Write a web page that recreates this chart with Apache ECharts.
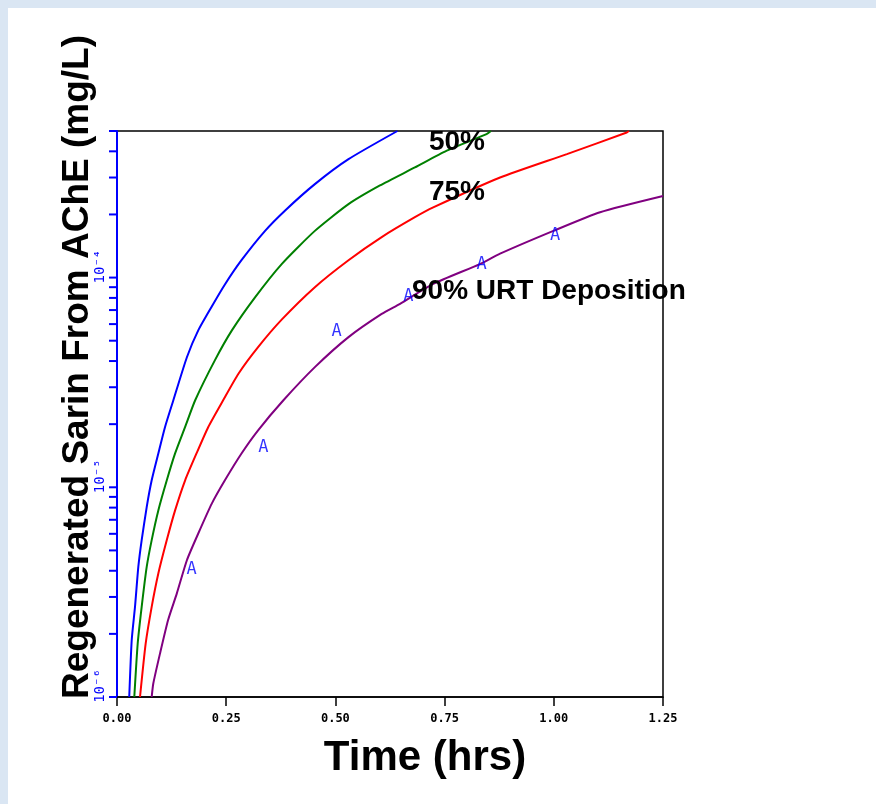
<!DOCTYPE html>
<html>
<head>
<meta charset="utf-8">
<script src="https://cdn.jsdelivr.net/npm/echarts@6/dist/echarts.min.js"></script>
<style>
html,body{margin:0;padding:0;background:#fff;}
#chart{width:876px;height:804px;}
</style>
</head>
<body>
<div id="chart"></div>
<script>
// ---- data ----
const xTicks = [0, 0.25, 0.5, 0.75, 1.0, 1.25];
const yTickValues = [1e-6,2e-6,3e-6,4e-6,5e-6,6e-6,7e-6,8e-6,9e-6,
  1e-5,2e-5,3e-5,4e-5,5e-5,6e-5,7e-5,8e-5,9e-5,
  1e-4,2e-4,3e-4,4e-4,5e-4];
const yLabelValues = [1e-6, 1e-5, 1e-4];
const yLabelTexts = ['10\u207B\u2076', '10\u207B\u2075', '10\u207B\u2074'];

const blueT = [0.028,0.0337,0.0412,0.0488,0.0565,0.068,0.0794,0.0946,0.110,0.129,0.160,0.186,0.217,0.247,0.285,0.339,0.385,0.453,0.530,0.642];
const blueY = [1e-6,1.87e-6,2.69e-6,4.17e-6,5.6e-6,8.05e-6,1.08e-5,1.45e-5,1.94e-5,2.6e-5,4.17e-5,5.6e-5,7.28e-5,9.27e-5,1.21e-4,1.67e-4,2.09e-4,2.79e-4,3.67e-4,5e-4];

const greenT = [0.0396,0.0474,0.0565,0.068,0.0794,0.0946,0.114,0.133,0.156,0.179,0.224,0.263,0.316,0.377,0.453,0.530,0.602,0.682,0.755,0.846,0.856];
const greenY = [1e-6,1.8e-6,2.69e-6,4.17e-6,5.6e-6,7.76e-6,1.08e-5,1.45e-5,1.94e-5,2.6e-5,4.03e-5,5.6e-5,8.05e-5,1.16e-4,1.67e-4,2.24e-4,2.75e-4,3.35e-4,4.03e-4,4.83e-4,5e-4];

const redT = [0.0527,0.0657,0.0794,0.0946,0.114,0.133,0.156,0.182,0.209,0.243,0.278,0.323,0.377,0.453,0.530,0.606,0.682,0.724,0.877,1.030,1.167,1.172];
const redY = [1e-6,1.8e-6,2.69e-6,3.88e-6,5.6e-6,7.76e-6,1.08e-5,1.45e-5,1.94e-5,2.6e-5,3.48e-5,4.66e-5,6.3e-5,9.0e-5,1.21e-4,1.56e-4,1.94e-4,2.16e-4,3.0e-4,3.88e-4,4.92e-4,5e-4];

const purpleT = [0.0794,0.0831,0.0984,0.117,0.137,0.160,0.186,0.217,0.247,0.285,0.323,0.381,0.453,0.530,0.606,0.648,0.724,0.831,0.877,0.999,1.106,1.25];
const purpleY = [1e-6,1.16e-6,1.61e-6,2.33e-6,3.12e-6,4.49e-6,6.02e-6,8.36e-6,1.08e-5,1.45e-5,1.87e-5,2.6e-5,3.74e-5,5.2e-5,6.71e-5,7.5e-5,9.33e-5,1.16e-4,1.3e-4,1.67e-4,2.05e-4,2.45e-4];

const markerT = [0.171,0.335,0.503,0.667,0.835,1.003];
const markerY = [4.03e-6,1.55e-5,5.53e-5,8.13e-5,1.15e-4,1.58e-4];

const seriesNames = ['50%','75%','90% URT Deposition'];
// --------------------------------------

function zip(a,b){return a.map((v,i)=>[v,b[i]]);}

const chart = echarts.init(document.getElementById('chart'), null, {renderer:'canvas'});

const lineBase = {type:'line', showSymbol:false, symbol:'none', smooth:0.2, clip:true, z:3};

chart.setOption({
  animation:false,
  backgroundColor:'#ffffff',
  grid:{left:117, right:213, top:131, bottom:107, show:true, borderColor:'#000', borderWidth:1.5, backgroundColor:'#fff'},
  xAxis:{
    type:'value', min:0, max:1.25, interval:0.25,
    axisLine:{show:true, onZero:false, lineStyle:{color:'#000', width:1.5}},
    axisTick:{show:true, length:9, lineStyle:{color:'#000', width:1.5}},
    axisLabel:{color:'#000', fontFamily:'DejaVu Sans Mono', fontSize:12, fontWeight:'bold', margin:16,
      formatter:v=>v.toFixed(2)},
    splitLine:{show:false}
  },
  yAxis:{
    type:'log', logBase:10, min:1e-6, max:5e-4,
    axisLine:{show:true, lineStyle:{color:'#0000ff', width:2}},
    axisTick:{show:false},
    axisLabel:{show:false},
    splitLine:{show:false}
  },
  series:[
    Object.assign({}, lineBase, {data:zip(blueT,blueY), lineStyle:{color:'#0000ff', width:2}, itemStyle:{color:'#0000ff'}}),
    Object.assign({}, lineBase, {name:seriesNames[0], data:zip(greenT,greenY), lineStyle:{color:'#008000', width:2}, itemStyle:{color:'#008000'}}),
    Object.assign({}, lineBase, {name:seriesNames[1], data:zip(redT,redY), lineStyle:{color:'#ff0000', width:2}, itemStyle:{color:'#ff0000'}}),
    Object.assign({}, lineBase, {name:seriesNames[2], data:zip(purpleT,purpleY), lineStyle:{color:'#800080', width:2}, itemStyle:{color:'#800080'}}),
    {
      type:'scatter', data:zip(markerT,markerY), symbolSize:1, itemStyle:{color:'rgba(0,0,0,0)'}, z:4,
      label:{show:true, position:'inside', formatter:'A', color:'#0000ff', fontFamily:'DejaVu Sans Mono', fontSize:17}
    },
    {
      type:'custom', clip:false, z:5,
      data:yTickValues.map(v=>[0,v]),
      renderItem:function(params, api){
        const p = api.coord([api.value(0), api.value(1)]);
        return {type:'line', shape:{x1:p[0]-8, y1:p[1], x2:p[0], y2:p[1]}, style:{stroke:'#0000ff', lineWidth:2}};
      }
    },
    {
      type:'custom', clip:false, z:5,
      data:yLabelValues.map((v,i)=>[0,v,i]),
      renderItem:function(params, api){
        const p = api.coord([api.value(0), api.value(1)]);
        return {type:'text', x:p[0]-17, y:p[1]-11, rotation:Math.PI/2,
          style:{text:yLabelTexts[api.value(2)], fill:'#0000ff', font:'14px "DejaVu Sans Mono"', textAlign:'center', textVerticalAlign:'middle'}};
      }
    }
  ],
  graphic:[
    {type:'rect', silent:true, z:-1, shape:{x:0,y:0,width:876,height:8}, style:{fill:'#dae6f3'}},
    {type:'rect', silent:true, z:-1, shape:{x:0,y:0,width:8,height:804}, style:{fill:'#dae6f3'}},
    {type:'text', x:78, y:367, rotation:Math.PI/2, z:10,
      style:{text:'Regenerated Sarin From AChE (mg/L)', font:'bold 37px "Liberation Sans", Arial, sans-serif', fill:'#000', textAlign:'center', textVerticalAlign:'middle'}},
    {type:'text', x:425, y:758, z:10,
      style:{text:'Time (hrs)', font:'bold 42px "Liberation Sans", Arial, sans-serif', fill:'#000', textAlign:'center', textVerticalAlign:'middle'}},
    {type:'text', x:457, y:142, z:10,
      style:{text:seriesNames[0], font:'bold 28px "Liberation Sans", Arial, sans-serif', fill:'#000', textAlign:'center', textVerticalAlign:'middle'}},
    {type:'text', x:457, y:192, z:10,
      style:{text:seriesNames[1], font:'bold 28px "Liberation Sans", Arial, sans-serif', fill:'#000', textAlign:'center', textVerticalAlign:'middle'}},
    {type:'text', x:412, y:291, z:10,
      style:{text:seriesNames[2], font:'bold 28px "Liberation Sans", Arial, sans-serif', fill:'#000', textAlign:'left', textVerticalAlign:'middle'}}
  ]
});
</script>
</body>
</html>
